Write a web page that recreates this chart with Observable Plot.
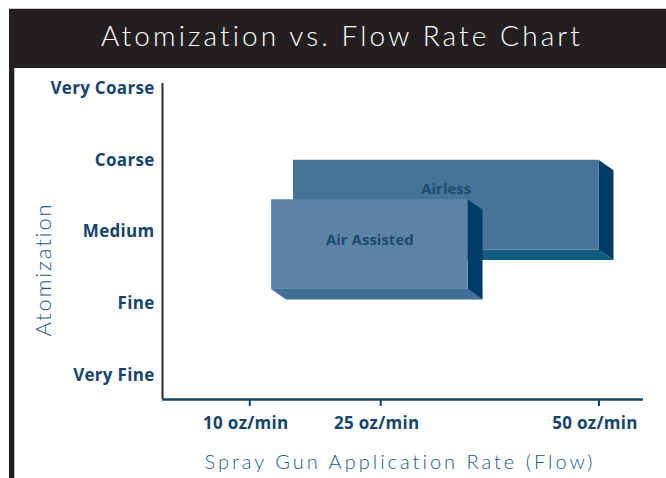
<!DOCTYPE html>
<html><head><meta charset="utf-8">
<script src="https://cdn.jsdelivr.net/npm/d3@7"></script>
<script src="https://cdn.jsdelivr.net/npm/@observablehq/plot@0.6"></script>
<style>
body{margin:0;background:#fff;}
#frame{position:relative;width:666px;height:478px;overflow:hidden;background:#fff;}
#topline{position:absolute;left:9px;top:8px;width:657px;height:1px;background:#c8c8c8;}
#header{position:absolute;left:9px;top:9px;width:648px;height:51px;padding-left:9px;padding-bottom:8px;background:#231f20;color:#fff;font-family:Lato,sans-serif;font-weight:300;font-size:28px;letter-spacing:3.1px;display:flex;align-items:center;justify-content:center;}
#leftbar{position:absolute;left:9px;top:68px;width:5px;height:410px;background:#231f20;border-right:1px solid #c0c0c0;}
#chart{position:absolute;left:0;top:68px;}
</style>
</head><body>
<div id="frame">
  <div id="topline"></div>
  <div id="header">Atomization vs. Flow Rate Chart</div>
  <div id="leftbar"></div>
  <div id="chart"></div>
</div>
<script>
// ---- data ----
const levels = ["Very Fine", "Fine", "Medium", "Coarse", "Very Coarse"];
const flowTicks = [10, 25, 50];
const methods = ["Airless", "Air Assisted"];
const flowMin = [15, 12.5];
const flowMax = [50, 35];
const atomLow = [1.75, 1.2];
const atomHigh = [3, 2.45];
const labelAtom = [2.6, 1.88];
const xTitle = "Spray Gun Application Rate (Flow)";
const yTitle = "Atomization";

const boxes = methods.map((m, i) => ({method: m, x1: flowMin[i], x2: flowMax[i], y1: atomLow[i], y2: atomHigh[i], ly: labelAtom[i]}));

const palette = {
  "Airless": {front: "#44749a", side: "#003c66", bottom: "#115a82"},
  "Air Assisted": {front: "#5d84a7", side: "#003c66", bottom: "#3f6f96"}
};
const DX = 15, DY = 10.5;
const labelColor = "#15446c";
const boldFont = "'Open Sans', sans-serif";

function depthFaces(b) {
  return (index, scales) => {
    const {x, y} = scales;
    const L = x(b.x1), R = x(b.x2), T = y(b.y2), B = y(b.y1);
    const s = palette[b.method];
    const g = d3.create("svg:g");
    g.append("polygon").attr("points", [[L, B], [R, B], [R + DX, B + DY], [L + DX, B + DY]].join(" ")).attr("fill", s.bottom);
    g.append("polygon").attr("points", [[R, T], [R + DX, T + DY], [R + DX, B + DY], [R, B]].join(" ")).attr("fill", s.side);
    return g.node();
  };
}

const boxMarks = boxes.flatMap(b => [
  depthFaces(b),
  Plot.rect([b], {x1: "x1", x2: "x2", y1: "y1", y2: "y2", fill: palette[b.method].front})
]);

const plot = Plot.plot({
  width: 666,
  height: 410,
  marginLeft: 162,
  marginRight: 23,
  marginTop: 15,
  marginBottom: 79,
  x: {domain: [0, 55.1]},
  y: {domain: [-0.334, 4.07]},
  style: {color: labelColor, background: "transparent", overflow: "visible", fontFamily: boldFont},
  marks: [
    ...boxMarks,
    Plot.text(boxes, {x: d => (d.x1 + d.x2) / 2, y: "ly", text: "method", fill: "#1d4a6c", fontWeight: "bold", fontSize: 15, fontFamily: boldFont}),
    Plot.ruleX([0], {stroke: "#2b2b2b", strokeWidth: 2}),
    Plot.ruleY([-0.334], {stroke: labelColor, strokeWidth: 2.5}),
    Plot.axisY({ticks: [0, 1, 2, 3, 4], tickFormat: i => levels[i], tickSize: 0, tickPadding: 8, fontSize: 17, fontWeight: "bold", label: null}),
    Plot.axisX({ticks: flowTicks, tickSize: 7, strokeWidth: 2, tickFormat: () => "", label: null}),
    Plot.axisX({ticks: flowTicks, tickFormat: d => `${d} oz/min`, tickSize: 0, tickPadding: 17, dx: -4, fontSize: 17, fontWeight: "bold", label: null}),
    Plot.text([xTitle], {frameAnchor: "bottom", lineAnchor: "middle", textAnchor: "middle", dy: 63, dx: -3, fill: "#1f5580", fontSize: 20, fontWeight: 300, fontFamily: "Lato, sans-serif"}),
    Plot.text([yTitle], {frameAnchor: "left", textAnchor: "middle", lineAnchor: "middle", rotate: -90, dx: -119, dy: 28, fill: "#1f5580", fontSize: 22, fontWeight: 300, fontFamily: "Lato, sans-serif"})
  ]
});
document.getElementById("chart").appendChild(plot);
const sel = d3.select(plot).selectAll("text");
sel.filter(function() { return this.textContent === xTitle; }).style("letter-spacing", "3px");
sel.filter(function() { return this.textContent === yTitle; }).style("letter-spacing", "1.9px");
sel.filter(function() { return /oz\/min/.test(this.textContent) || levels.includes(this.textContent); }).style("letter-spacing", "0.3px");
</script>
</body></html>
